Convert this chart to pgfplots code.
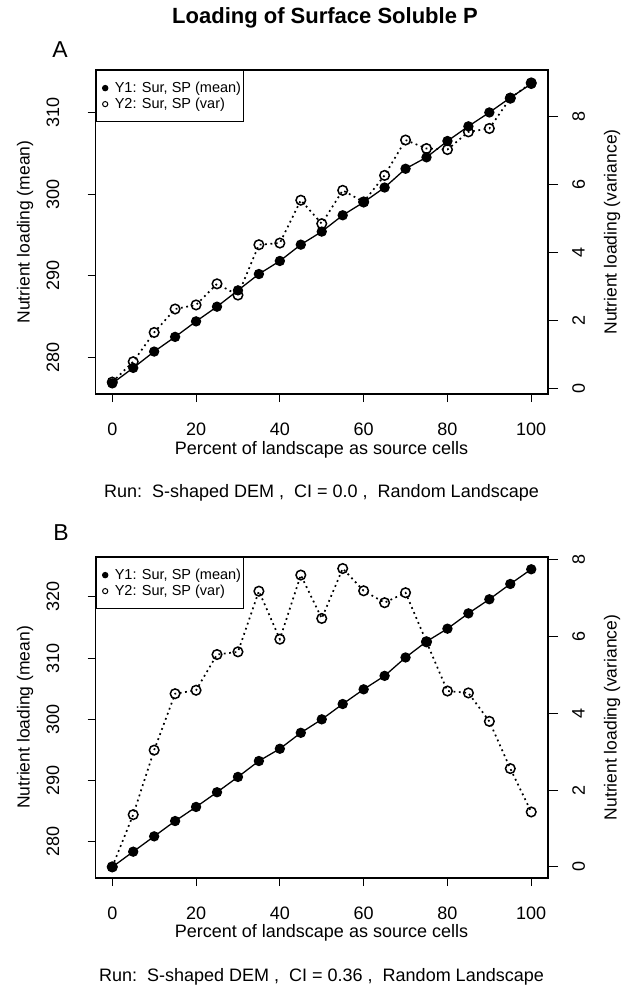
\documentclass[border=0pt]{standalone}
\usepackage{pgfplots}
\usepackage{pgfplotstable}
\pgfplotsset{compat=1.18}
\usepackage{fontspec}
\setmainfont{Liberation Sans}

\pgfplotstableread{
x mean var
0 276.8 0.20
5 278.7 0.80
10 280.7 1.66
15 282.5 2.35
20 284.4 2.47
25 286.2 3.09
30 288.2 2.76
35 290.2 4.24
40 291.8 4.29
45 293.8 5.55
50 295.4 4.86
55 297.4 5.84
60 299.0 5.50
65 300.8 6.28
70 303.1 7.32
75 304.5 7.07
80 306.5 7.04
85 308.3 7.56
90 310.0 7.66
95 311.8 8.55
100 313.5 9.00
}\dataA

\pgfplotstableread{
x mean var
0 275.9 0.00
5 278.4 1.36
10 280.9 3.04
15 283.4 4.51
20 285.7 4.60
25 288.1 5.53
30 290.6 5.60
35 293.2 7.18
40 295.2 5.93
45 297.8 7.60
50 300.0 6.47
55 302.5 7.77
60 304.9 7.19
65 307.1 6.88
70 310.1 7.14
75 312.7 5.86
80 314.8 4.58
85 317.3 4.53
90 319.6 3.79
95 322.1 2.56
100 324.5 1.43
}\dataB

\pgfplotsset{
  base/.style={
    scale only axis, width=452.5pt,
    xmin=-4, xmax=104,
    xtick={0,20,...,100},
    tick align=outside,
    major tick length=8pt,
    minor tick num=0,
    axis line style={line width=1.3pt},
    every tick/.style={line width=1.1pt, black},
    tick label style={font=\fontsize{18}{18}\selectfont, inner sep=0pt},
    /pgf/number format/assume math mode=true,
    clip=false,
  },
  leftax/.style={
    base,
    xtick pos=left, ytick pos=left,
    xticklabel style={anchor=north},
    xticklabel shift=21pt,
    yticklabel style={rotate=90, anchor=south},
    yticklabel shift=28pt,
    legend style={at={(0,1)}, anchor=north west, draw=black, line width=1.2pt,
      font=\fontsize{14.5}{14.5}\selectfont, inner xsep=1pt, inner ysep=10pt,
      row sep=1pt, nodes={inner sep=1.5pt}},
    legend cell align=left,
    legend image code/.code={\draw[##1] plot coordinates {(7.5pt,0pt)}; \path (0pt,0pt) (15pt,0pt);},
  },
  rightax/.style={
    base,
    axis x line=none, axis y line*=right, ytick pos=right,
    major tick length=10pt,
    yticklabel style={rotate=90, anchor=north},
    yticklabel shift=14pt,
  },
  meanline/.style={black, line width=1.3pt, mark=*, mark size=4.5pt,
    mark options={solid, fill=black}},
  varline/.style={black, line width=1.7pt, dash pattern=on 1.8pt off 3.6pt,
    mark=o, mark size=4.8pt, mark options={solid, line width=1.5pt}},
}

\begin{document}
\begin{tikzpicture}[x=1pt,y=1pt]
\useasboundingbox (0,0) rectangle (633,-988);
\coordinate (Abl) at (95.5,-394);
\coordinate (Bbl) at (95.5,-878);

\node[font=\fontsize{22}{22}\selectfont\bfseries] at (325,-18) {Loading of Surface Soluble P};
\node[font=\fontsize{23}{23}\selectfont] at (60,-50) {A};
\node[font=\fontsize{23}{23}\selectfont] at (61,-533) {B};

% ---------- Panel A ----------
\begin{axis}[leftax, at={(Abl)}, anchor=south west, height=324pt,
  ymin=275.5, ymax=315.2, ytick={280,290,300,310}]
  \addplot[meanline, forget plot] table[x=x,y=mean]{\dataA};
  \addlegendimage{only marks, mark=*, mark size=2.6pt, black, fill=black}
  \addlegendentry{Y1: Sur, SP (mean)}
  \addlegendimage{only marks, mark=o, mark size=2.6pt, black, line width=1pt}
  \addlegendentry{Y2: Sur, SP (var)}
\end{axis}
\begin{axis}[rightax, at={(Abl)}, anchor=south west, height=324pt,
  ymin=-0.15, ymax=9.38, ytick={0,2,4,6,8}]
  \addplot[varline] table[x=x,y=var]{\dataA};
\end{axis}

\node[font=\fontsize{18}{18}\selectfont] at (321.5,-450) {Percent of landscape as source cells};
\node[font=\fontsize{18}{18}\selectfont] at (321.5,-493) {Run:\ \ S-shaped DEM ,\ \ CI = 0.0 ,\ \ Random Landscape};
\node[font=\fontsize{17.5}{17.5}\selectfont, rotate=90] at (25,-232) {Nutrient loading (mean)};
\node[font=\fontsize{17.5}{17.5}\selectfont, rotate=90] at (612,-232) {Nutrient loading (variance)};

% ---------- Panel B ----------
\begin{axis}[leftax, at={(Bbl)}, anchor=south west, height=321pt,
  ymin=274.1, ymax=326.5, ytick={280,290,300,310,320}]
  \addplot[meanline, forget plot] table[x=x,y=mean]{\dataB};
  \addlegendimage{only marks, mark=*, mark size=2.6pt, black, fill=black}
  \addlegendentry{Y1: Sur, SP (mean)}
  \addlegendimage{only marks, mark=o, mark size=2.6pt, black, line width=1pt}
  \addlegendentry{Y2: Sur, SP (var)}
\end{axis}
\begin{axis}[rightax, at={(Bbl)}, anchor=south west, height=321pt,
  ymin=-0.29, ymax=8.07, ytick={0,2,4,6,8}]
  \addplot[varline] table[x=x,y=var]{\dataB};
\end{axis}

\node[font=\fontsize{18}{18}\selectfont] at (321.5,-933) {Percent of landscape as source cells};
\node[font=\fontsize{18}{18}\selectfont] at (321.5,-977) {Run:\ \ S-shaped DEM ,\ \ CI = 0.36 ,\ \ Random Landscape};
\node[font=\fontsize{17.5}{17.5}\selectfont, rotate=90] at (25,-717.5) {Nutrient loading (mean)};
\node[font=\fontsize{17.5}{17.5}\selectfont, rotate=90] at (612,-717.5) {Nutrient loading (variance)};
\end{tikzpicture}
\end{document}
